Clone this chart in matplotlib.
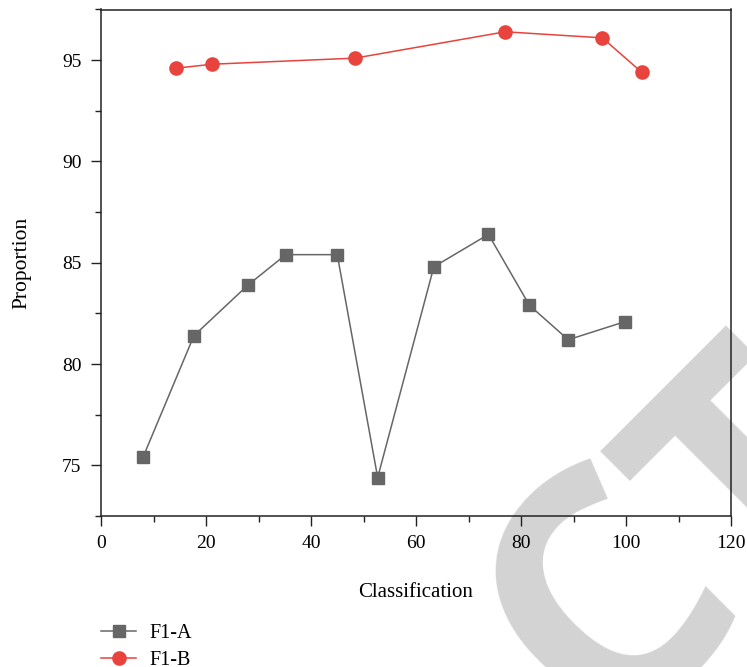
import matplotlib
matplotlib.use("Agg")
import matplotlib.pyplot as plt
from matplotlib.ticker import MultipleLocator

# Data
a_x = [8.0, 17.7, 28.0, 35.2, 45.0, 52.7, 63.4, 73.8, 81.6, 89.0, 99.9]
a_y = [75.4, 81.4, 83.9, 85.4, 85.4, 74.4, 84.8, 86.4, 82.9, 81.2, 82.1]
b_x = [14.2, 21.2, 48.4, 77.0, 95.5, 103.0]
b_y = [94.6, 94.8, 95.1, 96.4, 96.1, 94.4]
series_labels = ["F1-A", "F1-B"]
x_label = "Classification"
y_label = "Proportion"
watermark_parts = ["RETRA", "C", "TED"]

W, H = 747, 667
DPI = 100
plt.rcParams['font.family'] = ['Liberation Serif', 'DejaVu Serif']

fig = plt.figure(figsize=(W / DPI, H / DPI), dpi=DPI)
fig.patch.set_facecolor('white')

# Watermark (behind axes), anchor positions in screen pixels (y down)
wm_kw = dict(fontsize=237.6, fontweight='bold',
             family=['Open Sans', 'Liberation Sans', 'DejaVu Sans'], color='#d3d3d3',
             rotation=45, rotation_mode='anchor', va='baseline', zorder=-5)
fig.text(599.0 / W, (H - 781.4) / H, watermark_parts[0], ha='right', **wm_kw)
fig.text(751.0 / W, (H - 594.4) / H, watermark_parts[1], ha='right', **wm_kw)
fig.text(761.6 / W, (H - 618.7) / H, watermark_parts[2], ha='left', **wm_kw)

left, right, bottom, top = 101, 731, 516, 9.5
ax = fig.add_axes([left / W, (H - bottom) / H, (right - left) / W, (bottom - top) / H])
ax.set_facecolor('none')

gray = '#666666'
red = '#e8433c'
ax.plot(a_x, a_y, color=gray, lw=1.1, marker='s', markersize=8.5,
        markerfacecolor=gray, markeredgecolor=gray, label=series_labels[0])
ax.plot(b_x, b_y, color=red, lw=1.1, marker='o', markersize=9.5,
        markerfacecolor=red, markeredgecolor=red, label=series_labels[1])

ax.set_xlim(0, 120)
ax.set_ylim(72.5, 97.5)
ax.xaxis.set_major_locator(MultipleLocator(20))
ax.xaxis.set_minor_locator(MultipleLocator(10))
ax.yaxis.set_major_locator(MultipleLocator(5))
ax.yaxis.set_minor_locator(MultipleLocator(2.5))
ax.tick_params(which='both', direction='out', top=False, right=False,
               width=1, color='#222222')
ax.tick_params(which='major', length=7, labelsize=14, pad=7)
ax.tick_params(which='minor', length=4)
for s in ax.spines.values():
    s.set_linewidth(1.1)
    s.set_color('#222222')

ax.set_xlabel(x_label, fontsize=15, labelpad=22)
ax.set_ylabel(y_label, fontsize=15.5, labelpad=22)

leg = fig.legend(loc='center left', bbox_to_anchor=(101 / W, 20 / H),
                 frameon=False, fontsize=14.5, handlelength=1.75,
                 handletextpad=0.65, labelspacing=0.4, borderpad=0,
                 borderaxespad=0)

fig.savefig('out.png', dpi=DPI)
